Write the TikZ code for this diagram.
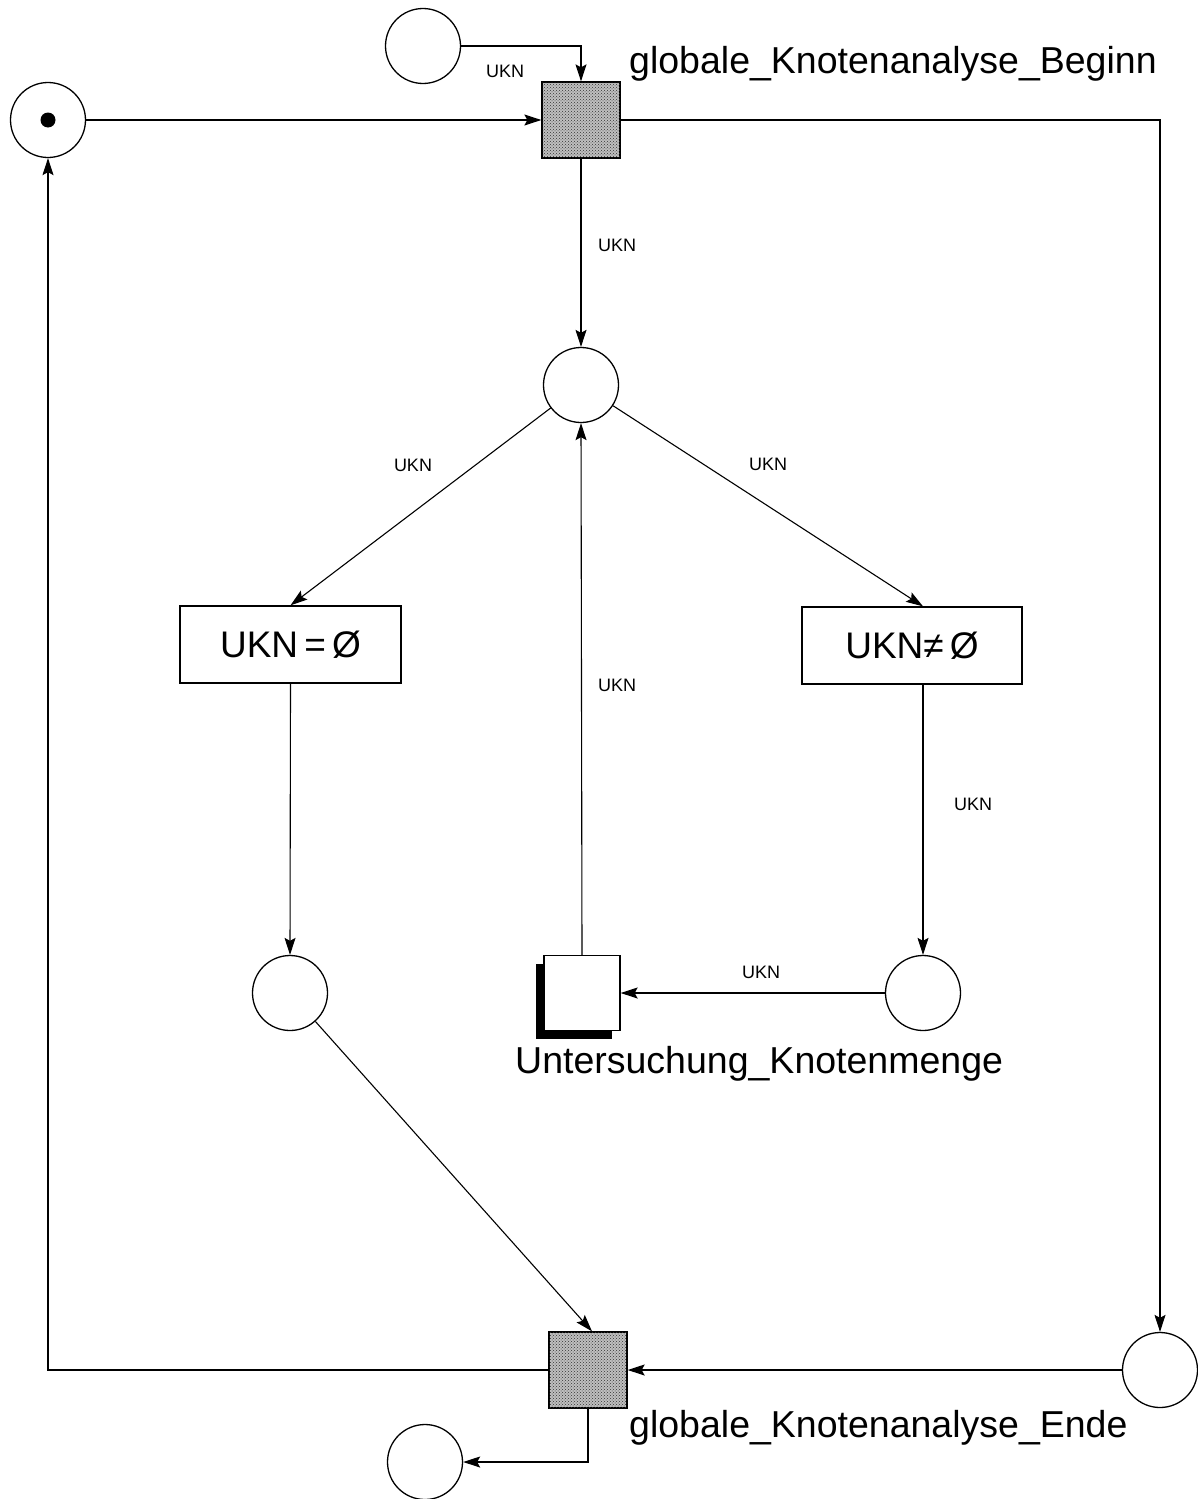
\documentclass[tikz,border=0pt]{standalone}
\usepackage{fontspec}
\setmainfont{Liberation Sans}
\usetikzlibrary{arrows.meta,shadows,patterns}
\begin{document}
\begin{tikzpicture}[x=1pt,y=1pt,
  place/.style={draw,circle,minimum size=75pt,inner sep=0pt,line width=1.3pt},
  trans/.style={draw,rectangle,minimum width=78pt,minimum height=76pt,inner sep=0pt,line width=1.3pt,
    fill=black!25,postaction={pattern=crosshatch dots,pattern color=black!80}},
  guard/.style={draw,rectangle,minimum width=221pt,minimum height=77pt,inner sep=0pt,line width=1.3pt,
    font=\fontsize{37}{44}\selectfont},
  arr/.style={-{Stealth[length=17pt,width=11pt,inset=3pt]},line width=1.1pt},
  lab/.style={font=\fontsize{18}{21}\selectfont,inner sep=0pt},
  big/.style={font=\fontsize{37.5}{44}\selectfont,inner sep=0pt,anchor=base west}
]
\useasboundingbox (0,0) rectangle (1198,-1499);

% places
\node[place] (p0) at (423,-46) {};
\node[place] (pstart) at (48,-120) {};
\fill (pstart) circle (7.5pt);
\node[place] (pc) at (581,-385) {};
\node[place] (pL) at (290,-993) {};
\node[place] (pR) at (923,-993) {};
\node[place] (pE) at (1160,-1370) {};
\node[place] (pEnd) at (425,-1462) {};

% transitions
\node[trans] (tB) at (581,-120) {};
\node[trans] (tE) at (588,-1370) {};
\node[draw,rectangle,minimum width=76pt,minimum height=75pt,inner sep=0pt,line width=1.3pt,fill=white,
  general shadow={fill=black,shadow xshift=-8pt,shadow yshift=-8pt}] (tU) at (582,-993) {};

% guard boxes
\node[guard] (boxL) at (290.5,-644.5) {UKN\,=\,Ø};
\node[guard,minimum width=220pt] (boxR) at (912,-645.5) {UKN≠\,Ø};

% texts
\node[big] (lB) at (629,-73) {globale\_Knotenanalyse\_Beginn};
\node[big] (lE) at (629,-1437) {globale\_Knotenanalyse\_Ende};
\node[big] (lU) at (515,-1073) {Untersuchung\_Knotenmenge};

% arcs
\draw[arr] (p0.east) -| (tB.north);
\draw[arr] (pstart.east) -- (tB.west);
\draw[arr] (tB.east) -| (pE.north);
\draw[arr] (tB.south) -- (pc.north);
\draw[arr] (pc) -- (boxL.north);
\draw[arr] (pc) -- (pR |- boxR.north);
\draw[arr] (boxL.south) -- (pL.north);
\draw[arr] (pR |- boxR.south) -- (pR.north);
\draw[arr] (pR.west) -- (tU.east);
\draw[arr] (tU.north) -- (pc.south);
\draw[arr] (pL) -- ([xshift=4pt]tE.north);
\draw[arr] (pE.west) -- (tE.east);
\draw[arr] (tE.west) -| (pstart.south);
\draw[arr] (tE.south) |- (pEnd.east);

% arc labels
\node[lab] (u1) at (505,-71) {UKN};
\node[lab] (u2) at (617,-245) {UKN};
\node[lab] (u3) at (413,-465) {UKN};
\node[lab] (u4) at (768,-464) {UKN};
\node[lab] (u5) at (617,-685) {UKN};
\node[lab] (u6) at (973,-804) {UKN};
\node[lab] (u7) at (761,-972) {UKN};
\end{tikzpicture}
\end{document}
